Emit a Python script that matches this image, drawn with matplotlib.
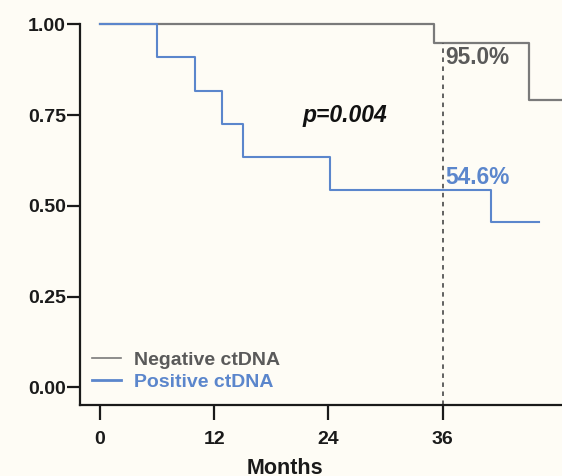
import matplotlib
matplotlib.use("Agg")
import matplotlib.pyplot as plt

plt.rcParams['font.family'] = ['Liberation Sans', 'DejaVu Sans']

# Kaplan-Meier step data (months, survival)
neg_months = [0, 35.1, 45.1, 50]
neg_surv = [1.0, 0.95, 0.792, 0.792]
pos_months = [0, 6, 10, 12.8, 15, 24.2, 41.1, 46.1]
pos_surv = [1.0, 0.909, 0.818, 0.727, 0.636, 0.545, 0.455, 0.455]

x_ticks = [0, 12, 24, 36]
y_ticks = [0.0, 0.25, 0.5, 0.75, 1.0]
y_ticklabels = ['0.00', '0.25', '0.50', '0.75', '1.00']
landmark = 36
neg_label, pos_label = '95.0%', '54.6%'

bg = '#FEFCF5'
c_neg = '#7a7a7a'
c_neg_txt = '#5a5a5a'
c_pos = '#5B86CC'

fig = plt.figure(figsize=(5.62, 4.76), dpi=100, facecolor=bg)
ymin, ymax = -0.049, 1.03
xmin, xmax = -2.1, 48.5
ax = fig.add_axes([80 / 562, 71 / 476, 481.7 / 562, 391.4 / 476])
ax.set_facecolor(bg)
ax.set_xlim(xmin, xmax)
ax.set_ylim(ymin, ymax)

ax.step(neg_months, neg_surv, where='post', color=c_neg, lw=1.6, label='Negative ctDNA')
ax.step(pos_months, pos_surv, where='post', color=c_pos, lw=1.5, label='Positive ctDNA')

# landmark line at 36 months
ax.plot([landmark, landmark], [ymin, 0.95], color='#555555', lw=1.3,
        dashes=(2.5, 2.5), clip_on=False)

ax.text(landmark + 0.25, 0.908, neg_label, color=c_neg_txt, fontsize=16.3,
        fontweight='bold', ha='left', va='center')
ax.text(landmark + 0.25, 0.577, pos_label, color=c_pos, fontsize=16.3,
        fontweight='bold', ha='left', va='center')
ax.text(25.7, 0.75, 'p=0.004', fontsize=16.5, fontweight='bold', style='italic',
        ha='center', va='center', color='#111111')

for s in ['top', 'right']:
    ax.spines[s].set_visible(False)
for s in ['left', 'bottom']:
    ax.spines[s].set_linewidth(1.6)
    ax.spines[s].set_color('#1a1a1a')
ax.spines['left'].set_bounds(ymin, 1.0)

ax.set_xticks(x_ticks)
ax.set_yticks(y_ticks)
ax.set_yticklabels(y_ticklabels)
ax.tick_params(axis='y', length=9.5, width=1.6, pad=0.5, labelsize=14, colors='#1a1a1a')
ax.tick_params(axis='x', length=11, width=1.6, pad=8, labelsize=14, colors='#1a1a1a')
for lab in ax.get_xticklabels() + ax.get_yticklabels():
    lab.set_fontweight('bold')

# axis title sits partly below the figure edge, as in the original
fig.text(285 / 562, 1 - 458 / 476, 'Months', fontsize=15.5, fontweight='bold',
         ha='center', va='top', color='#1a1a1a')

leg = ax.legend(loc='lower left', bbox_to_anchor=(0.0, 0.007), frameon=False,
                fontsize=14, handlelength=1.5, handletextpad=0.67,
                labelspacing=0.2, borderaxespad=0.2)
for txt, col in zip(leg.get_texts(), [c_neg_txt, c_pos]):
    txt.set_color(col)
    txt.set_fontweight('bold')
leg.get_lines()[0].set_linewidth(1.2)
leg.get_lines()[1].set_linewidth(2.0)

fig.savefig('out.png', dpi=100, facecolor=bg)
